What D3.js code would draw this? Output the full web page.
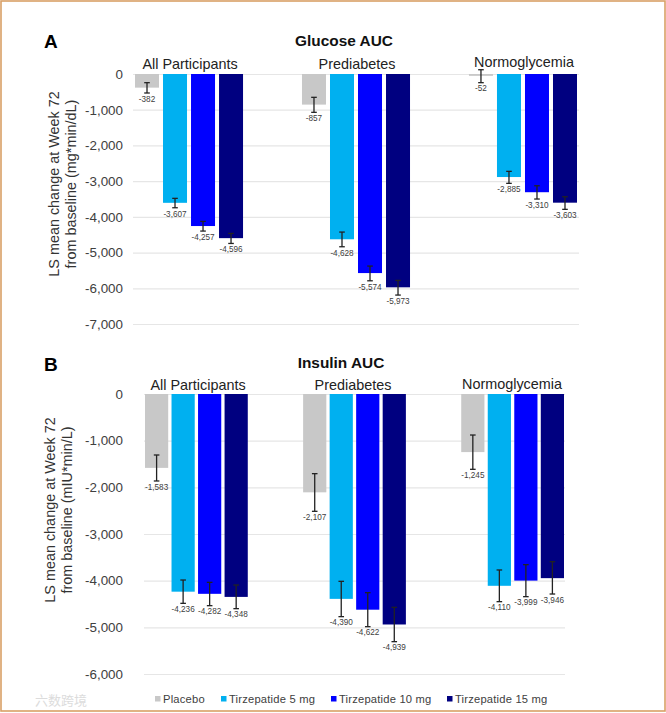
<!DOCTYPE html>
<html>
<head>
<meta charset="utf-8">
<script src="https://cdn.jsdelivr.net/npm/d3@7"></script>
<style>
  body { margin: 0; background: #fff; }
  svg { display: block; font-family: "Liberation Sans", Arial, sans-serif; }
  .tick text { font-size: 13.4px; fill: #404040; }
</style>
</head>
<body>
<svg id="chart" width="666" height="713"></svg>
<script>
var groups = ["All Participants", "Prediabetes", "Normoglycemia"];
var treatments = ["Placebo", "Tirzepatide 5 mg", "Tirzepatide 10 mg", "Tirzepatide 15 mg"];
var colors = ["#c8c8c8", "#00b0f0", "#0000ff", "#000080"];

// one row per group, one column per treatment
var glucoseMean = [[-382, -3607, -4257, -4596], [-857, -4628, -5574, -5973], [-52, -2885, -3310, -3603]];
var glucoseHigh = [[-243, -3482, -4126, -4464], [-653, -4426, -5378, -5779], [120, -2726, -3129, -3437]];
var glucoseLow = [[-532, -3745, -4398, -4745], [-1073, -4837, -5790, -6190], [-243, -3062, -3501, -3790]];
var glucoseTicks = [0, -1000, -2000, -3000, -4000, -5000, -6000, -7000];

var insulinMean = [[-1583, -4236, -4282, -4348], [-2107, -4390, -4622, -4939], [-1245, -4110, -3999, -3946]];
var insulinHigh = [[-1307, -3986, -4036, -4093], [-1707, -4014, -4257, -4571], [-879, -3771, -3657, -3593]];
var insulinLow = [[-1864, -4486, -4536, -4600], [-2514, -4771, -4986, -5307], [-1614, -4450, -4343, -4286]];
var insulinTicks = [0, -1000, -2000, -3000, -4000, -5000, -6000];

var fmt = d3.formatLocale({decimal: ".", thousands: ",", grouping: [3], currency: ["$", ""], minus: "-"}).format(",");
var svg = d3.select("#chart");

// frame round the figure
svg.append("rect")
  .attr("x", 1).attr("y", 1).attr("width", 664).attr("height", 710)
  .attr("fill", "none")
  .attr("stroke", "#d9a066")
  .attr("stroke-width", 1.6);

function drawPanel(p) {
  var y = d3.scaleLinear().domain(p.yDomain).range(p.yRange);
  var x0 = d3.scaleBand().domain(groups).range(p.xRange).paddingInner(p.groupGap);
  var x1 = d3.scaleBand().domain(treatments).range([0, x0.bandwidth()]).paddingInner(p.barGap);

  var g = svg.append("g");

  g.append("text")
    .attr("x", 44).attr("y", p.letterY)
    .attr("font-size", 19).attr("font-weight", "bold").attr("fill", "#000")
    .text(p.letter);
  g.append("text")
    .attr("x", p.titleX).attr("y", p.titleY)
    .attr("text-anchor", "middle")
    .attr("font-size", 15.4).attr("font-weight", "bold").attr("fill", "#111")
    .text(p.title);

  // axis, gridlines stretch over the plot
  var axis = g.append("g")
    .attr("transform", "translate(" + p.gridX[0] + ",0)")
    .call(d3.axisLeft(y).tickValues(p.ticks).tickFormat(fmt).tickSize(0).tickPadding(p.gridX[0] - 123));
  axis.select(".domain").remove();
  axis.selectAll(".tick line")
    .attr("x2", p.gridX[1] - p.gridX[0])
    .attr("stroke", "#e6e6e6")
    .attr("stroke-width", 1.2);

  // y title, two lines
  p.yTitle.forEach(function(line, i) {
    g.append("text")
      .attr("transform", "translate(" + p.yTitleX[i] + "," + p.yTitleY + ") rotate(-90)")
      .attr("text-anchor", "middle")
      .attr("font-size", 14.4)
      .attr("fill", "#333")
      .text(line);
  });

  groups.forEach(function(group, gi) {
    g.append("text")
      .attr("x", p.groupX[gi]).attr("y", p.groupY[gi])
      .attr("text-anchor", "middle")
      .attr("font-size", 14.4)
      .attr("fill", "#222")
      .text(group);

    treatments.forEach(function(t, ti) {
      var cx = x0(group) + x1(t) + x1.bandwidth() / 2;
      g.append("rect")
        .attr("x", x0(group) + x1(t))
        .attr("y", y(0))
        .attr("width", x1.bandwidth())
        .attr("height", y(p.mean[gi][ti]) - y(0))
        .attr("fill", colors[ti]);

      var hi = y(p.high[gi][ti]), lo = y(p.low[gi][ti]);
      var err = g.append("g").attr("stroke", "#222").attr("stroke-width", 1.3);
      err.append("line").attr("x1", cx).attr("x2", cx).attr("y1", hi).attr("y2", lo);
      err.append("line").attr("x1", cx - 2.8).attr("x2", cx + 2.8).attr("y1", hi).attr("y2", hi);
      err.append("line").attr("x1", cx - 2.8).attr("x2", cx + 2.8).attr("y1", lo).attr("y2", lo);

      g.append("text")
        .attr("x", cx).attr("y", lo + 8.8)
        .attr("text-anchor", "middle")
        .attr("font-size", 8.2)
        .attr("fill", "#404040")
        .text(fmt(p.mean[gi][ti]));
    });
  });
}

drawPanel({
  letter: "A", letterY: 48, title: "Glucose AUC", titleX: 344, titleY: 46,
  mean: glucoseMean, high: glucoseHigh, low: glucoseLow, ticks: glucoseTicks,
  yDomain: [0, -7000], yRange: [74, 324], xRange: [135, 577], gridX: [133, 579],
  groupGap: 0.353, barGap: 0.143,
  yTitle: ["LS mean change at Week 72", "from baseline (mg*min/dL)"], yTitleX: [59, 76], yTitleY: 184,
  groupX: [190, 357, 524], groupY: [69, 69, 67]
});

drawPanel({
  letter: "B", letterY: 371, title: "Insulin AUC", titleX: 341, titleY: 368,
  mean: insulinMean, high: insulinHigh, low: insulinLow, ticks: insulinTicks,
  yDomain: [0, -6000], yRange: [394, 674], xRange: [145, 564], gridX: [144, 565],
  groupGap: 0.35, barGap: 0.125,
  yTitle: ["LS mean change at Week 72", "from baseline (mIU*min/L)"], yTitleX: [55, 72], yTitleY: 510,
  groupX: [198, 353, 512], groupY: [390, 390, 389]
});

// legend
var legendX = [155, 221, 331, 447];
var legend = svg.append("g").selectAll("g")
  .data(treatments)
  .enter().append("g")
    .attr("transform", function(d, i) { return "translate(" + legendX[i] + ",699)"; });
legend.append("rect")
  .attr("y", -3).attr("width", 5.5).attr("height", 5.5)
  .attr("fill", function(d, i) { return colors[i]; });
legend.append("text")
  .attr("x", 8).attr("y", 4)
  .attr("font-size", 11.2)
  .attr("letter-spacing", 0.2)
  .attr("fill", "#404040")
  .text(function(d) { return d; });

// faint source mark, bottom left
svg.append("text")
  .attr("x", 35).attr("y", 705)
  .attr("font-family", "'Noto Sans CJK SC'")
  .attr("font-size", 13)
  .attr("fill", "#dcdcdc")
  .text("六数跨境");
</script>
</body>
</html>
